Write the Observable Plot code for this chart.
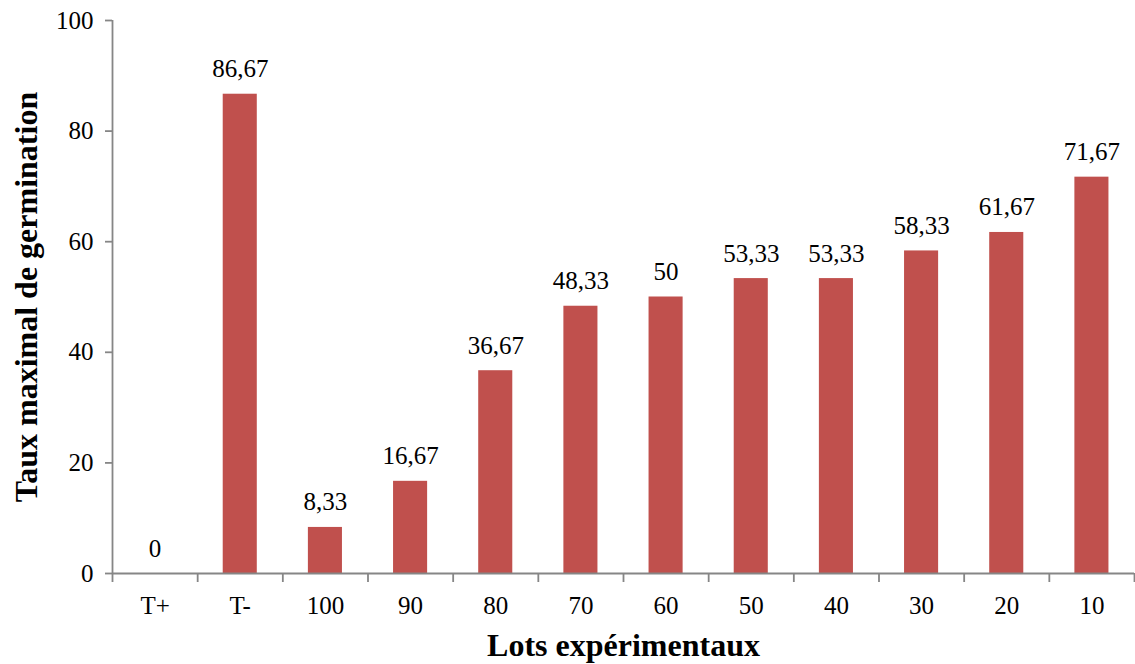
<!DOCTYPE html>
<html>
<head>
<meta charset="utf-8">
<script src="https://cdn.jsdelivr.net/npm/d3@7"></script>
<script src="https://cdn.jsdelivr.net/npm/@observablehq/plot@0.6"></script>
<style>
  html, body { margin: 0; padding: 0; background: #fff; }
  #chart svg, #chart svg text { font-family: "Liberation Serif", "Times New Roman", serif !important; }
</style>
</head>
<body>
<div id="chart"></div>
<script>
// Taux maximal de germination par lot expérimental
const lots = ["T+", "T-", "100", "90", "80", "70", "60", "50", "40", "30", "20", "10"];
const tauxMax = [0, 86.67, 8.33, 16.67, 36.67, 48.33, 50, 53.33, 53.33, 58.33, 61.67, 71.67];
const yTicks = [0, 20, 40, 60, 80, 100];
const titreX = "Lots expérimentaux";
const titreY = "Taux maximal de germination";

const rows = lots.map((lot, i) => ({lot, i, taux: tauxMax[i]}));
const virgule = v => String(v).replace(".", ",");

const grey = "#868686";
const barColor = "#C0504D";
const font = "'Liberation Serif', 'Times New Roman', serif";

const chart = Plot.plot({
  width: 1135,
  height: 664,
  marginLeft: 112,
  marginRight: 1,
  marginTop: 20,
  marginBottom: 91,
  style: {fontFamily: font, fontSize: "25px", color: "#000", background: "#fff", overflow: "visible"},
  x: {type: "linear", domain: [0, lots.length]},
  y: {domain: [0, 100]},
  marks: [
    // bars: each lot occupies one unit, bar covers the middle 40%
    Plot.rectY(rows, {x1: d => d.i + 0.3, x2: d => d.i + 0.7, y: "taux", fill: barColor}),
    // value labels above bars
    Plot.text(rows, {x: d => d.i + 0.5, y: "taux", text: d => virgule(d.taux),
      lineAnchor: "bottom", dy: -17, fontSize: 25, fill: "#000"}),
    // axis lines
    Plot.ruleY([0], {stroke: grey, strokeWidth: 1.8}),
    Plot.ruleX([0], {stroke: grey, strokeWidth: 1.8}),
    Plot.axisY({ticks: yTicks, tickSize: 7, tickPadding: 12, stroke: grey, strokeWidth: 1.8,
      strokeOpacity: 1, fill: "#000", fontSize: 25, label: null}),
    // category boundary ticks
    Plot.axisX({ticks: d3.range(lots.length + 1), tickSize: 9, tickFormat: () => "",
      stroke: grey, strokeWidth: 1.8, strokeOpacity: 1, label: null}),
    // category names centred in each slot
    Plot.axisX({ticks: lots.map((_, i) => i + 0.5), tickSize: 0, tickPadding: 23,
      tickFormat: t => lots[Math.floor(t)], fill: "#000", fontSize: 25, label: null}),
    // axis titles
    Plot.text([titreY], {frameAnchor: "left", textAnchor: "middle", dx: -86, rotate: -90,
      fontWeight: "bold", fontSize: 32, fill: "#000"}),
    Plot.text([titreX], {frameAnchor: "bottom", dy: 82, lineAnchor: "bottom", fontWeight: "bold",
      fontSize: 32, fill: "#000"})
  ]
});

document.getElementById("chart").appendChild(chart);
</script>
</body>
</html>
